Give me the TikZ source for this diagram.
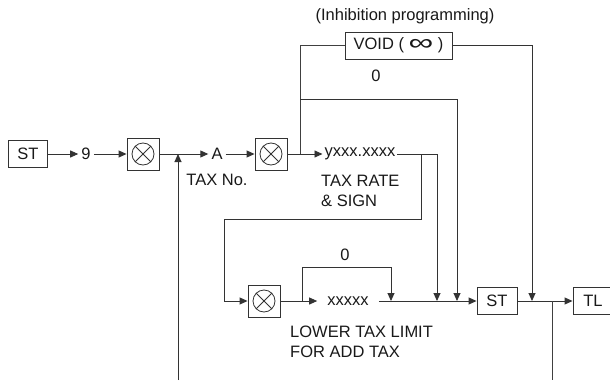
\documentclass[tikz,border=0pt]{standalone}
\usepackage{fontspec}
\setmainfont{Liberation Sans}
\usetikzlibrary{positioning,arrows.meta,calc}

\begin{document}
\begin{tikzpicture}[
  x=1pt, y=-1pt,
  font=\fontsize{16.5}{20.5}\selectfont,
  every node/.style={text=black!90},
  keybox/.style={draw=black!80, line width=0.9pt, rectangle, minimum height=27pt, inner sep=0pt},
  mulbox/.style={draw=black!80, line width=0.9pt, minimum size=32pt, inner sep=0pt, path picture={
    \draw[black!80, line width=0.8pt] (path picture bounding box.center) circle (11pt);
    \draw[black!80, line width=0.8pt] (path picture bounding box.center) ++(45:11pt) -- ++(225:22pt);
    \draw[black!80, line width=0.8pt] (path picture bounding box.center) ++(135:11pt) -- ++(315:22pt);
  }},
  lbl/.style={inner sep=3pt},
  txt/.style={inner sep=0pt, align=left, anchor=west},
  line/.style={draw=black!75, line width=0.9pt},
  arrow/.style={-{Triangle[length=8pt,width=7pt]}, line width=0.9pt, draw=black!80}
]
\useasboundingbox (0,0) rectangle (610,380);

% ================= UPPER ROW =================
\node[keybox, minimum width=39pt] (st1) at (28,154) {ST};
\node[lbl] (nine) at (86,154) {9};
\node[mulbox] (mul1) at (143,154) {};
\node[lbl] (tax) at (217,154) {A};
\node (taxno) at (217,180) {TAX No.};
\node[mulbox] (mul2) at (271,154) {};
\node[lbl, inner sep=2pt] (rate) at (360,154) {yxxx.xxxx};
\node[txt] (ratetxt) at (321,191) {TAX RATE\\\& SIGN};

% ================= VOID =================
\node (inhib) at (405,16) {(Inhibition programming)};
\node[keybox, minimum width=107pt] (void) at (398.5,45.5) {VOID ( \raisebox{-0.5pt}{\scalebox{2.1}[1.4]{∞}} )};
\node (zeroa) at (376,76) {0};

% ================= LOWER ROW =================
\node[mulbox] (mul3) at (264,301) {};
\node[lbl, inner sep=10pt] (limit) at (348,301) {xxxxx};
\node (zerob) at (345,255) {0};
\node[txt] (lowtxt) at (290,342) {LOWER TAX LIMIT\\FOR ADD TAX};
\node[keybox, minimum width=40pt] (st2) at (497,301) {ST};
\node[keybox, minimum width=40pt] (tl) at (593,301) {TL};

% junctions
\coordinate (inA) at (178,380);
\coordinate (jA) at (178,154);
\coordinate (jV) at (300,154);
\coordinate (jZ) at (300,99);
\coordinate (dZ) at (457,301);
\coordinate (dV) at (532,301);
\coordinate (dR) at (437,301);
\coordinate (jR) at (421,154);
\coordinate (kR) at (224,219);
\coordinate (jL) at (302,301);
\coordinate (tL) at (302,267);
\coordinate (dL) at (391,301);
\coordinate (jT) at (552,301);
\coordinate (outT) at (552,380);

% ================== ARROWS ==================
\draw[arrow] (st1) -- (nine);
\draw[arrow] (nine) -- (mul1);
\draw[arrow] (mul1) -- (tax);
\draw[arrow] (inA) -- (jA);
\draw[arrow] (tax) -- (mul2);
\draw[arrow] (mul2) -- (mul2 -| rate.west);

% void / 0 branch
\draw[line] (jV) |- (void);
\draw[arrow] (jZ) -| (dZ);
\draw[arrow] (void) -| (dV);

% rate -> ST, rate -> lower limit
\draw[arrow] (rate.east) -| (dR);
\draw[arrow] (jR) |- (kR) |- (mul3);

% lower row
\draw[arrow] (mul3) -- (limit);
\draw[arrow] (jL) -- (tL) -| (dL);
\draw[arrow] (limit) -- (st2);
\draw[arrow] (st2) -- (tl);
\draw[line] (jT) -- (outT);

\end{tikzpicture}
\end{document}
